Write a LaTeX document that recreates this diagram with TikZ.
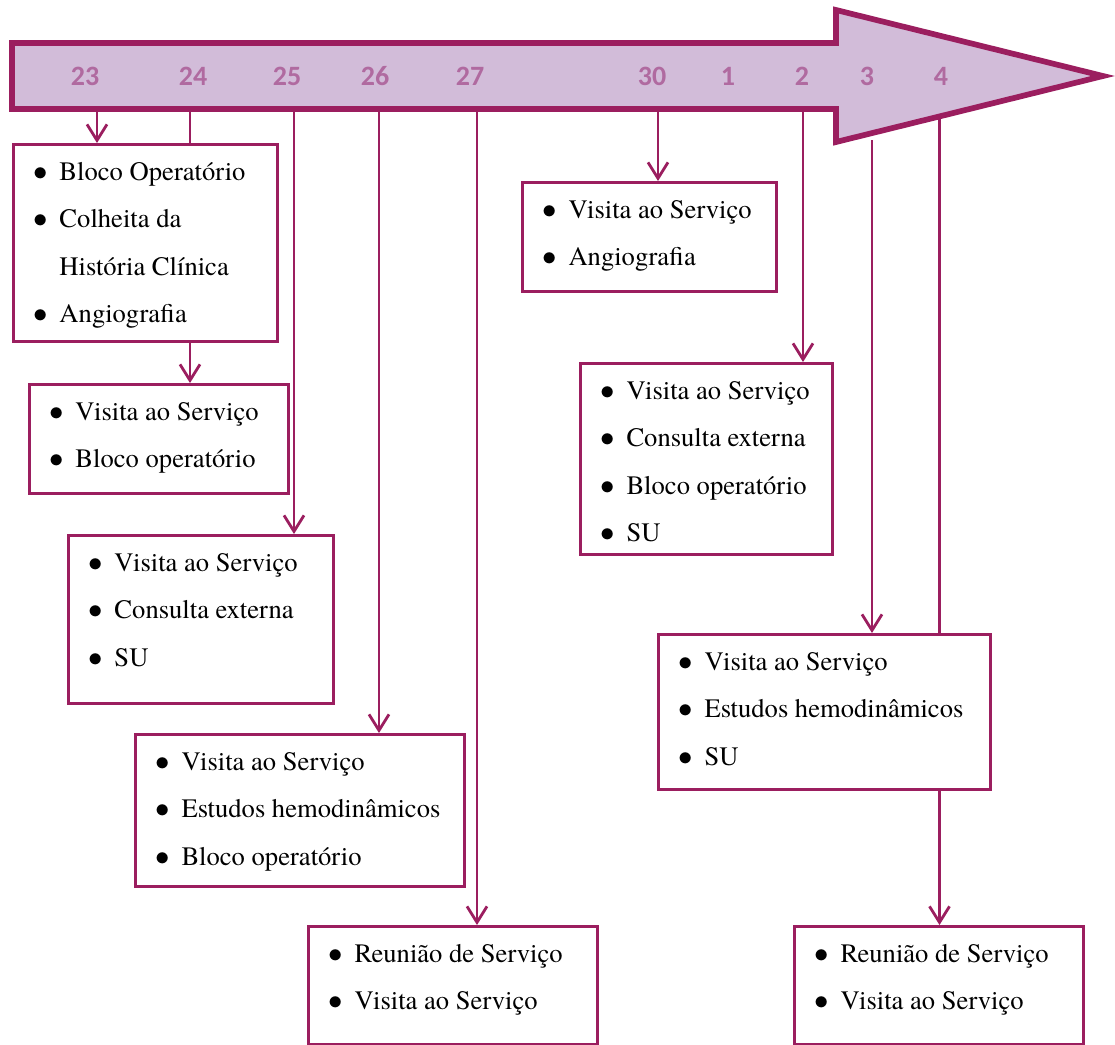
\documentclass[tikz,border=0pt]{standalone}
\usepackage{fontspec}
\setmainfont{texgyretermes}[Extension=.otf,UprightFont=*-regular,BoldFont=*-bold,ItalicFont=*-italic,BoldItalicFont=*-bolditalic]
\newfontfamily\numfont{Carlito}
\usetikzlibrary{arrows.meta}

\definecolor{roxo}{HTML}{9B1E5F}
\definecolor{lilas}{HTML}{D2BCD9}
\definecolor{numcor}{HTML}{B06AA0}

% item with bullet, and continuation line
\newcommand{\itm}[1]{\hbox{\vrule height18pt depth5.7pt width0pt\hbox to 27pt{\hss$\bullet$\hss}\hskip-4pt #1}}
\newcommand{\cont}[1]{\hbox{\vrule height18pt depth5.7pt width0pt\hskip23pt #1}}
% box content of width x height (in px)
\newcommand{\conteudo}[3]{\hbox to \dimexpr#1pt/2\relax{\vbox to \dimexpr#2pt/2\relax{\baselineskip=23.7pt\lineskip=0pt\lineskiplimit=-100pt #3\vss}\hss}}

\begin{document}
\begin{tikzpicture}[x=0.5pt,y=-0.5pt,
	seta/.style={draw=roxo,fill=lilas,line width=2.85pt,line join=miter},
	dia/.style={text=numcor,font=\numfont\bfseries\fontsize{14}{16}\selectfont,inner sep=0pt},
	caixa/.style={draw=roxo,line width=1.5pt,fill=white,inner sep=0pt,anchor=north west,font=\rmfamily\fontsize{13.3}{16}\selectfont},
	liga/.style={draw=roxo,line width=1.4pt},
	vai/.style={liga,-{Straight Barb[length=8pt,width=10pt]}}]
	\useasboundingbox (0,0) rectangle (1115,1045);

	% Boxes
	\node[caixa] (b23) at (12,143) {\conteudo{264}{197}{\itm{Bloco Operatório}\itm{Colheita da}\cont{História Clínica}\itm{Angiografia}}};
	\node[caixa] (b24) at (28,383) {\conteudo{259}{109}{\itm{Visita ao Serviço}\itm{Bloco operatório}}};
	\node[caixa] (b25) at (67,534) {\conteudo{265}{168}{\itm{Visita ao Serviço}\itm{Consulta externa}\itm{SU}}};
	\node[caixa] (b26) at (134,733) {\conteudo{329}{152}{\itm{Visita ao Serviço}\itm{Estudos hemodinâmicos}\itm{Bloco operatório}}};
	\node[caixa] (b27) at (307,925) {\conteudo{289}{118}{\itm{Reunião de Serviço}\itm{Visita ao Serviço}}};
	\node[caixa] (b30) at (521,181) {\conteudo{254}{109}{\itm{Visita ao Serviço}\itm{Angiografia}}};
	\node[caixa] (b2) at (579,362) {\conteudo{252}{191}{\itm{Visita ao Serviço}\itm{Consulta externa}\itm{Bloco operatório}\itm{SU}}};
	\node[caixa] (b3) at (657,633) {\conteudo{332}{155}{\itm{Visita ao Serviço}\itm{Estudos hemodinâmicos}\itm{SU}}};
	\node[caixa] (b4) at (793,925) {\conteudo{289}{118}{\itm{Reunião de Serviço}\itm{Visita ao Serviço}}};

	% Start points under the arrow
	\coordinate (s23) at (97,110);
	\coordinate (s24) at (190,112);
	\coordinate (s25) at (294,110);
	\coordinate (s26) at (379,110);
	\coordinate (s27) at (477,110);
	\coordinate (s30) at (658,110);
	\coordinate (s2) at (803,110);
	\coordinate (s3) at (872,140);
	\coordinate (s4) at (939.5,118);

	% Connectors
	\draw[vai] (s23) -- (s23 |- b23.north);
	\draw[liga] (s24) -- (s24 |- b23.north);
	\draw[vai] (s24 |- b23.south) -- (s24 |- b24.north);
	\draw[vai] (s25) -- (s25 |- b25.north);
	\draw[vai] (s26) -- (s26 |- b26.north);
	\draw[vai] (s27) -- (s27 |- b27.north);
	\draw[vai] (s30) -- (s30 |- b30.north);
	\draw[vai] (s2) -- (s2 |- b2.north);
	\draw[vai] (s3) -- (s3 |- b3.north);
	\draw[liga] (s4) -- (s4 |- b3.north);
	\draw[vai] (s4 |- b3.south) -- (s4 |- b4.north);

	% Arrow
	\draw[seta] (12,43) -- (836,43) -- (836,10) -- (1103,76) -- (836,142) -- (836,109) -- (12,109) -- cycle;

	% Days
	\node[dia] (d23) at (85,76) {23};
	\node[dia] (d24) at (193,76) {24};
	\node[dia] (d25) at (287,76) {25};
	\node[dia] (d26) at (375,76) {26};
	\node[dia] (d27) at (470,76) {27};
	\node[dia] (d30) at (652,76) {30};
	\node[dia] (d1) at (728,76) {1};
	\node[dia] (d2) at (802,76) {2};
	\node[dia] (d3) at (867,76) {3};
	\node[dia] (d4) at (941,76) {4};
\end{tikzpicture}
\end{document}
